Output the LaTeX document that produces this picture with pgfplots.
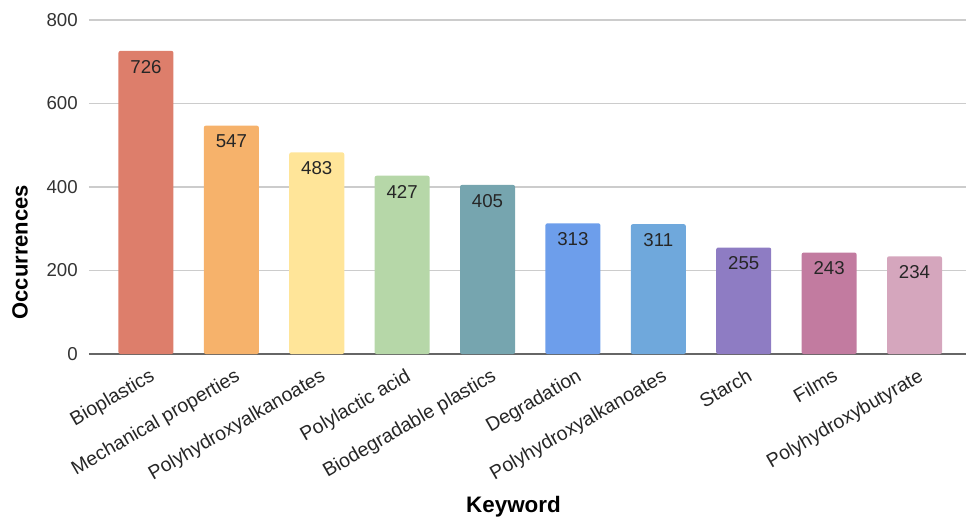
\documentclass[border=0pt]{standalone}
\usepackage{fontspec}
\setmainfont{Liberation Sans}
\usepackage{pgfplots}
\pgfplotsset{compat=1.18}
\definecolor{c1}{HTML}{DD7E6B}
\definecolor{c2}{HTML}{F6B26B}
\definecolor{c3}{HTML}{FFE599}
\definecolor{c4}{HTML}{B6D7A8}
\definecolor{c5}{HTML}{76A5AF}
\definecolor{c6}{HTML}{6D9EEB}
\definecolor{c7}{HTML}{6FA8DC}
\definecolor{c8}{HTML}{8E7CC3}
\definecolor{c9}{HTML}{C27BA0}
\definecolor{c10}{HTML}{D5A6BD}
\begin{document}
\begin{tikzpicture}
\begin{axis}[
  width=657.75pt, height=250.5pt, scale only axis,
  ybar, bar width=41.25pt, bar shift=0pt,
  xmin=-0.667, xmax=9.603,
  ymin=0, ymax=800,
  ytick={200,400,600,800},
  extra y ticks={0},
  extra y tick style={grid style={color=black!60, line width=1.5pt}},
  ymajorgrids, grid style={color=black!20, line width=0.9pt},
  xtick={0,...,9},
  xticklabels={Bioplastics, Mechanical properties, Polyhydroxyalkanoates, Polylactic acid, Biodegradable plastics, Degradation, Polyhydroxyalkanoates, Starch, Films, Polyhydroxybutyrate},
  axis line style={draw=none},
  major tick length=0pt,
  tick style={draw=none},
  /pgf/number format/assume math mode=true,
  yticklabel style={font=\fontsize{14}{16}\selectfont, text=black!80, inner sep=0pt, xshift=-8.25pt},
  xticklabel style={font=\fontsize{14.6}{16}\selectfont, text=black!85, inner sep=0pt, xshift=2pt, yshift=-10pt, rotate=30, anchor=north east},
  xlabel={Keyword}, ylabel={Occurrences},
  every axis y label/.style={at={(axis description cs:-0.0787,0.305)}, rotate=90, anchor=center, font=\fontsize{16.5}{18}\selectfont\bfseries},
  every axis x label/.style={at={(axis description cs:0.484,-0.458)}, anchor=center, font=\fontsize{16.8}{18}\selectfont\bfseries},
  nodes near coords,
  every node near coord/.append style={anchor=north, inner sep=0pt, yshift=-6.75pt, font=\fontsize{14}{16}\selectfont, text=black!85},
]
\addplot[fill=c1, draw=none, rounded corners=1.5pt] coordinates {(0,726)};
\addplot[fill=c2, draw=none, rounded corners=1.5pt] coordinates {(1,547)};
\addplot[fill=c3, draw=none, rounded corners=1.5pt] coordinates {(2,483)};
\addplot[fill=c4, draw=none, rounded corners=1.5pt] coordinates {(3,427)};
\addplot[fill=c5, draw=none, rounded corners=1.5pt] coordinates {(4,405)};
\addplot[fill=c6, draw=none, rounded corners=1.5pt] coordinates {(5,313)};
\addplot[fill=c7, draw=none, rounded corners=1.5pt] coordinates {(6,311)};
\addplot[fill=c8, draw=none, rounded corners=1.5pt] coordinates {(7,255)};
\addplot[fill=c9, draw=none, rounded corners=1.5pt] coordinates {(8,243)};
\addplot[fill=c10, draw=none, rounded corners=1.5pt] coordinates {(9,234)};
\end{axis}
\pgfresetboundingbox
\path[use as bounding box] (-66.75pt,-125.25pt) rectangle (657.75pt,265.5pt);
\end{tikzpicture}
\end{document}
